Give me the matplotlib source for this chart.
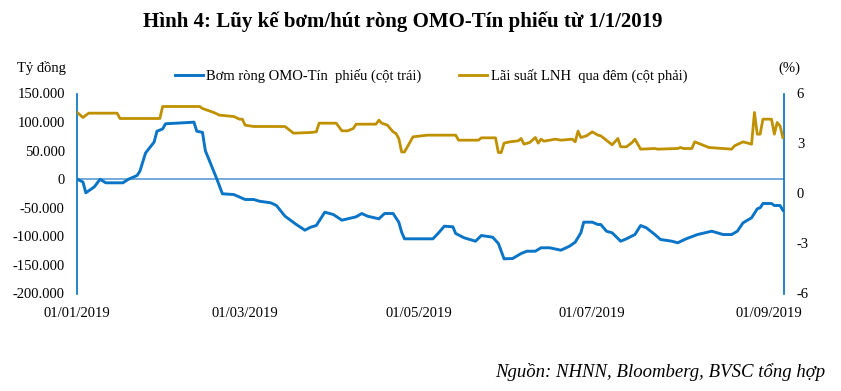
import matplotlib
matplotlib.use("Agg")
import matplotlib.pyplot as plt
import matplotlib.ticker as mticker
import pandas as pd
import numpy as np

# ---- Data ----
# Cumulative net OMO injection (ty dong), day offsets from 01/01/2019
omo_day = [0, 2, 3, 6, 8, 10, 16, 18, 21, 22, 24, 27, 28, 30, 31, 41, 42, 44, 45, 49, 51,
           55, 59, 62, 64, 68, 70, 73, 77, 80, 82, 84, 87, 90, 93, 98, 100, 102, 106, 108,
           111, 113, 114, 115, 125, 127, 129, 132, 133, 136, 140, 142, 146, 148, 150, 153,
           156, 158, 161, 163, 166, 170, 173, 175, 177, 178, 181, 183, 184, 186, 188, 191,
           193, 196, 198, 200, 203, 205, 209, 211, 214, 218, 223, 227, 230, 232, 234, 237,
           239, 240, 241, 244, 245, 247, 248]
omo_value = [0, -5000, -23800, -13300, 0, -6300, -6300, 0, 6500, 14000, 46000, 65000, 84000,
             88000, 97000, 99800, 84000, 82000, 50000, 1000, -25500, -26800, -35500, -35500,
             -38500, -41300, -46000, -64700, -79300, -89200, -84000, -81000, -57700, -61800,
             -71700, -65800, -60000, -64700, -69300, -60000, -60000, -75200, -92700, -104300,
             -104300, -93800, -82200, -83300, -95000, -102600, -108500, -98500, -101500,
             -112500, -139300, -138800, -130000, -126000, -126000, -120000, -120000, -124200,
             -117200, -110200, -93800, -75200, -75200, -79300, -79300, -91000, -93800,
             -108500, -104300, -96800, -81000, -85000, -96800, -105500, -108500, -111300,
             -104300, -96800, -91000, -96800, -96800, -91000, -76300, -67500, -51800, -50000,
             -42500, -42500, -46000, -46000, -54300]

# Overnight interbank rate (%), day offsets from 01/01/2019
rate_day = [0, 2, 4, 14, 15, 29, 30, 43, 44, 48, 50, 55, 57, 58, 59, 62, 73, 76, 82, 84, 85,
            91, 93, 95, 97, 98, 105, 106, 107, 109, 111, 112, 113, 114, 115, 118, 123, 133,
            134, 141, 142, 147, 148, 149, 150, 152, 155, 156, 157, 159, 161, 162, 163, 164,
            168, 170, 174, 175, 176, 177, 179, 181, 183, 184, 188, 190, 191, 193, 195, 196,
            198, 203, 204, 211, 212, 213, 216, 217, 222, 230, 231, 234, 237, 238, 239, 240,
            241, 244, 245, 246, 247, 248]
rate_value = [4.86, 4.56, 4.82, 4.82, 4.50, 4.50, 5.22, 5.22, 5.10, 4.86, 4.70, 4.62, 4.46,
              4.46, 4.10, 4.02, 4.02, 3.62, 3.66, 3.70, 4.22, 4.22, 3.76, 3.76, 3.90, 4.16,
              4.16, 4.40, 4.22, 4.10, 3.70, 3.60, 3.30, 2.49, 2.49, 3.40, 3.50, 3.50, 3.20,
              3.20, 3.34, 3.34, 2.46, 2.46, 3.02, 3.10, 3.16, 3.30, 2.96, 3.06, 3.36, 3.02,
              3.26, 3.14, 3.26, 3.20, 3.26, 3.10, 3.74, 3.36, 3.46, 3.70, 3.50, 3.46, 2.92,
              3.30, 2.80, 2.80, 3.06, 3.26, 2.66, 2.70, 2.66, 2.70, 2.76, 2.70, 2.70, 3.10,
              2.76, 2.66, 2.86, 3.10, 2.96, 4.86, 3.56, 3.56, 4.46, 4.46, 3.56, 4.26, 4.06,
              3.36]

xtick_labels = ["01/01/2019", "01/03/2019", "01/05/2019", "01/07/2019", "01/09/2019"]
left_ticks = [150000, 100000, 50000, 0, -50000, -100000, -150000, -200000]
right_ticks = [6, 3, 0, -3, -6]

title = "Hình 4: Lũy kế bơm/hút ròng OMO-Tín phiếu từ 1/1/2019"
label_omo = "Bơm ròng OMO-Tín  phiếu (cột trái)"
label_rate = "Lãi suất LNH  qua đêm (cột phải)"
source = "Nguồn: NHNN, Bloomberg, BVSC tổng hợp"

# ---- Styling ----
plt.rcParams['font.family'] = ['Liberation Serif', 'DejaVu Serif']
plt.rcParams['axes.unicode_minus'] = False
BLUE = "#0A74C6"
GOLD = "#BF9000"
AXBLUE = "#0070C0"
ZERO = "#5B9BD5"

start = pd.Timestamp("2019-01-01")
omo_x = start + pd.to_timedelta(omo_day, unit="D")
rate_x = start + pd.to_timedelta(rate_day, unit="D")
tick_x = pd.to_datetime(xtick_labels, format="%d/%m/%Y")

fig = plt.figure(figsize=(8.41, 3.91), dpi=100)
ax = fig.add_axes([77.3 / 841, 1 - 293.5 / 391, (784.3 - 77.3) / 841, 200 / 391])
ax2 = ax.twinx()

ax.axhline(0, color=ZERO, lw=1.2, zorder=1)
l1, = ax.plot(omo_x, omo_value, color=BLUE, lw=2.1, zorder=3, label=label_omo)
l2, = ax2.plot(rate_x, rate_value, color=GOLD, lw=2.0, zorder=3, label=label_rate)

ax.set_ylim(-200000, 150000)
ax2.set_ylim(-6, 6)
ax.set_xlim(start, start + pd.Timedelta(days=248.5))

ax.set_yticks(left_ticks)
ax.yaxis.set_major_formatter(mticker.FuncFormatter(lambda v, p: f"{v:,.0f}".replace(",", ".")))
ax2.set_yticks(right_ticks)
ax.set_xticks(tick_x)
ax.set_xticklabels(xtick_labels)

for a in (ax, ax2):
    for s in ("top", "bottom"):
        a.spines[s].set_visible(False)
ax.spines["right"].set_visible(False)
ax2.spines["left"].set_visible(False)
ax.spines["left"].set_color(AXBLUE)
ax.spines["left"].set_linewidth(1.2)
ax2.spines["right"].set_color(AXBLUE)
ax2.spines["right"].set_linewidth(1.2)

ax.tick_params(axis="y", length=0, pad=9, labelsize=10.5)
ax2.tick_params(axis="y", length=0, pad=9, labelsize=10.5)
ax.tick_params(axis="x", length=0, pad=10, labelsize=10.5)

fig.legend([l1, l2], [label_omo, label_rate], loc="center", bbox_to_anchor=(431 / 841, 1 - 76 / 391),
           ncol=2, frameon=False, fontsize=10.5, handlelength=1.9, handletextpad=0.25,
           columnspacing=2.6)

fig.text(403 / 841, 1 - 22 / 391, title, ha="center", va="center", fontsize=15, fontweight="bold")
fig.text(17 / 841, 1 - 68 / 391, "Tỷ đồng", ha="left", va="center", fontsize=10.5)
fig.text(789 / 841, 1 - 68 / 391, "(%)", ha="center", va="center", fontsize=10.5)
fig.text(825 / 841, 1 - 372 / 391, source, ha="right", va="center", fontsize=13.5, style="italic")

fig.savefig("out.png", dpi=100)
